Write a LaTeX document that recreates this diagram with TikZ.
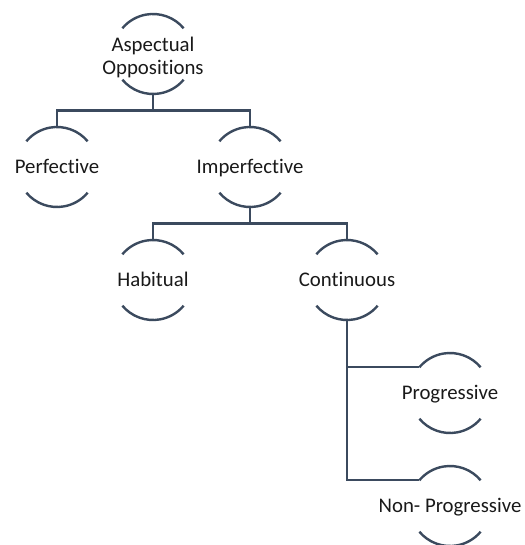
\documentclass[tikz,border=0pt]{standalone}
\usepackage{fontspec}
\setmainfont[Ligatures=NoCommon]{Carlito}
\usetikzlibrary{calc}
\begin{document}
\begin{tikzpicture}[x=1pt,y=1pt,
  ring/.style={circle,minimum size=80pt,inner sep=0pt,outer sep=0pt},
  lbl/.style={text=black!90,font=\fontsize{20.8}{23.5}\selectfont,align=center,inner sep=0pt,text depth=0pt},
  one/.style={lbl,text height=13.5pt},
  capline/.style={draw=linecol,line width=2.4pt},
  link/.style={draw=linecol,line width=2.4pt}]
\definecolor{linecol}{HTML}{3B4A5E}
\useasboundingbox (0,0) rectangle (524,-545);

% concept rings (text sits at the centre of each ring)
\node[ring,label={[lbl,yshift=-2pt]center:Aspectual\\Oppositions}] (asp)  at (153,-54)  {};
\node[ring,label={[one]center:Perfective}]             (perf) at (57,-167)  {};
\node[ring,label={[one]center:Imperfective}]           (imp)  at (250,-167) {};
\node[ring,label={[one]center:Habitual}]               (hab)  at (153,-280) {};
\node[ring,label={[one]center:Continuous}]             (cont) at (347,-280) {};
\node[ring,label={[one]center:Progressive}]            (prog) at (450,-393) {};
\node[ring,label={[one]center:Non- Progressive}]       (nonp) at (450,-506) {};

% upper and lower arcs of every ring
\foreach \n in {asp,perf,imp,hab,cont,prog,nonp}{
  \draw[capline] (\n.40) arc[start angle=40,end angle=140,radius=40pt];
  \draw[capline] (\n.220) arc[start angle=220,end angle=320,radius=40pt];
}

% tree connectors
\draw[link] (asp.south) |- ($(asp.south)!0.5!(perf.north)$) -| (perf.north);
\draw[link] (asp.south) |- ($(asp.south)!0.5!(imp.north)$) -| (imp.north);
\draw[link] (imp.south) |- ($(imp.south)!0.5!(hab.north)$) -| (hab.north);
\draw[link] (imp.south) |- ($(imp.south)!0.5!(cont.north)$) -| (cont.north);
\draw[link] (cont.south) |- (prog.140);
\draw[link] (cont.south) |- (nonp.140);
\end{tikzpicture}
\end{document}
